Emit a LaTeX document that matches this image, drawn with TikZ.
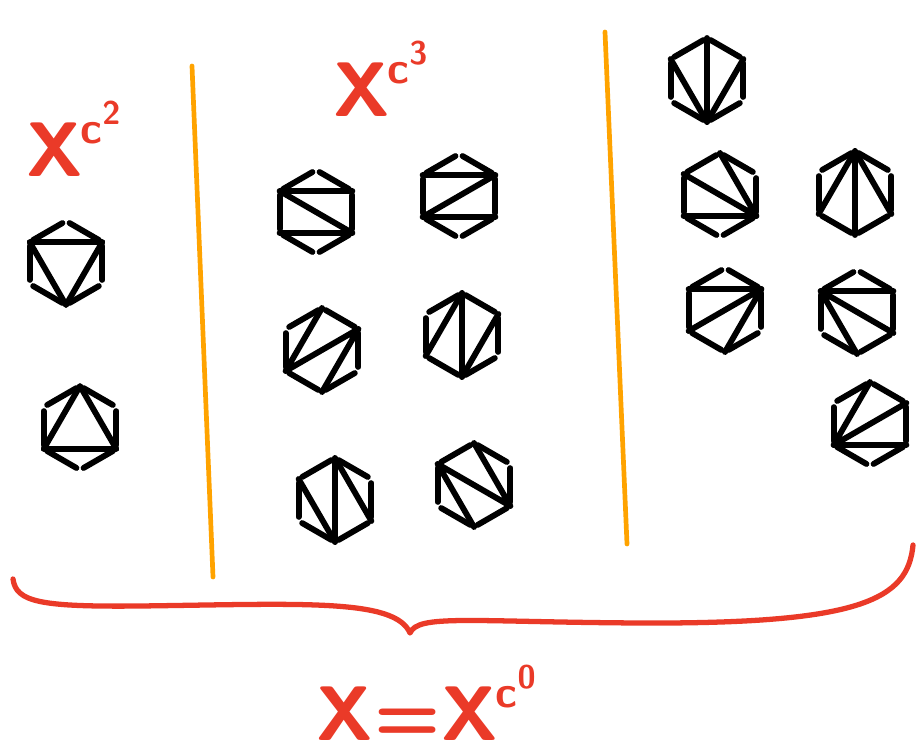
\documentclass[tikz,border=0pt]{standalone}
\usetikzlibrary{calc}

\definecolor{penred}{RGB}{234,58,40}
\definecolor{penorange}{RGB}{255,163,0}

% X with a tower exponent c^#1
\newcommand{\xpow}[1]{X\kern-2pt\raisebox{28pt}{\fontsize{38}{38}\selectfont c\raisebox{16pt}{\fontsize{28}{28}\selectfont #1}}}

% hexagon with corners (name-1) ... (name-6), top corner first, clockwise
\newcommand{\drawhex}[2]{%
  \coordinate (#1) at (#2);
  \foreach \k/\a in {1/90,2/30,3/-30,4/-90,5/-150,6/150}
    \coordinate (#1-\k) at ($(#1)+(\a:1.26cm)$);
  \foreach \k/\l in {1/2,2/3,3/4,4/5,5/6,6/1}
    \draw[side] (#1-\k) -- (#1-\l);
}

\begin{document}
\begin{tikzpicture}[
    x=0.03cm, y=-0.03cm,
    side/.style={
        line width=5pt,
        line cap=round,
        shorten <=3.5pt,
        shorten >=3.5pt
    },
    diag/.style={
        line width=5pt,
        line cap=round,
        line join=round
    },
    divider/.style={
        penorange,
        line width=4pt,
        line cap=round
    },
    brace/.style={
        penred,
        line width=4.5pt,
        line cap=round,
        line join=round
    },
    label/.style={
        penred,
        anchor=base west,
        inner sep=0pt,
        font=\sffamily\bfseries\fontsize{66}{66}\selectfont
    }
]
\useasboundingbox (0,0) rectangle (917,753);

% labels
\node[label] (lab-two) at (26,176) {\xpow{2}};
\node[label] (lab-three) at (333,116) {\xpow{3}};
\node[label] (lab-zero) at (316,740) {X\kern1pt=\kern1pt\xpow{0}};

% dividers
\coordinate (div1-top) at (192,66);
\coordinate (div1-bot) at (213,577);
\coordinate (div2-top) at (605,32);
\coordinate (div2-bot) at (627,544);
\draw[divider] (div1-top) -- (div1-bot);
\draw[divider] (div2-top) -- (div2-bot);

% left column
\drawhex{l1}{66,263}
\draw[diag] (l1-6) -- (l1-2) -- (l1-4) -- cycle;
\drawhex{l2}{80,428}
\draw[diag] (l2-1) -- (l2-3) -- (l2-5) -- cycle;

% middle column
\drawhex{m1}{316,212}
\draw[diag] (m1-2) -- (m1-6) -- (m1-3) -- (m1-5);
\drawhex{m2}{459,196}
\draw[diag] (m2-6) -- (m2-2) -- (m2-5) -- (m2-3);
\drawhex{m3}{322,350}
\draw[diag] (m3-1) -- (m3-5) -- (m3-2) -- (m3-4);
\drawhex{m4}{462,335}
\draw[diag] (m4-5) -- (m4-1) -- (m4-4) -- (m4-2);
\drawhex{m5}{335,500}
\draw[diag] (m5-6) -- (m5-4) -- (m5-1) -- (m5-3);
\drawhex{m6}{474,485}
\draw[diag] (m6-4) -- (m6-6) -- (m6-3) -- (m6-1);

% right column
\drawhex{r1}{707,80}
\draw[diag] (r1-4) -- (r1-6) (r1-4) -- (r1-1) (r1-4) -- (r1-2);
\drawhex{r2}{720,195}
\draw[diag] (r2-3) -- (r2-1) (r2-3) -- (r2-6) (r2-3) -- (r2-5);
\drawhex{r3}{855,193}
\draw[diag] (r3-1) -- (r3-5) (r3-1) -- (r3-4) (r3-1) -- (r3-3);
\drawhex{r4}{725,310}
\draw[diag] (r4-2) -- (r4-6) (r4-2) -- (r4-5) (r4-2) -- (r4-4);
\drawhex{r5}{857,312}
\draw[diag] (r5-6) -- (r5-2) (r5-6) -- (r5-3) (r5-6) -- (r5-4);
\drawhex{r6}{870,424}
\draw[diag] (r6-5) -- (r6-1) (r6-5) -- (r6-2) (r6-5) -- (r6-3);

% brace
\coordinate (brace-l) at (13,579);
\coordinate (brace-tip) at (410,633);
\coordinate (brace-r) at (913,545);
\draw[brace] (brace-l) .. controls (16,602) and (40,607) .. (140,606)
    .. controls (300,604) and (395,598) .. (brace-tip)
    .. controls (418,614) and (470,622) .. (640,623)
    .. controls (860,624) and (908,600) .. (brace-r);

\end{tikzpicture}
\end{document}
